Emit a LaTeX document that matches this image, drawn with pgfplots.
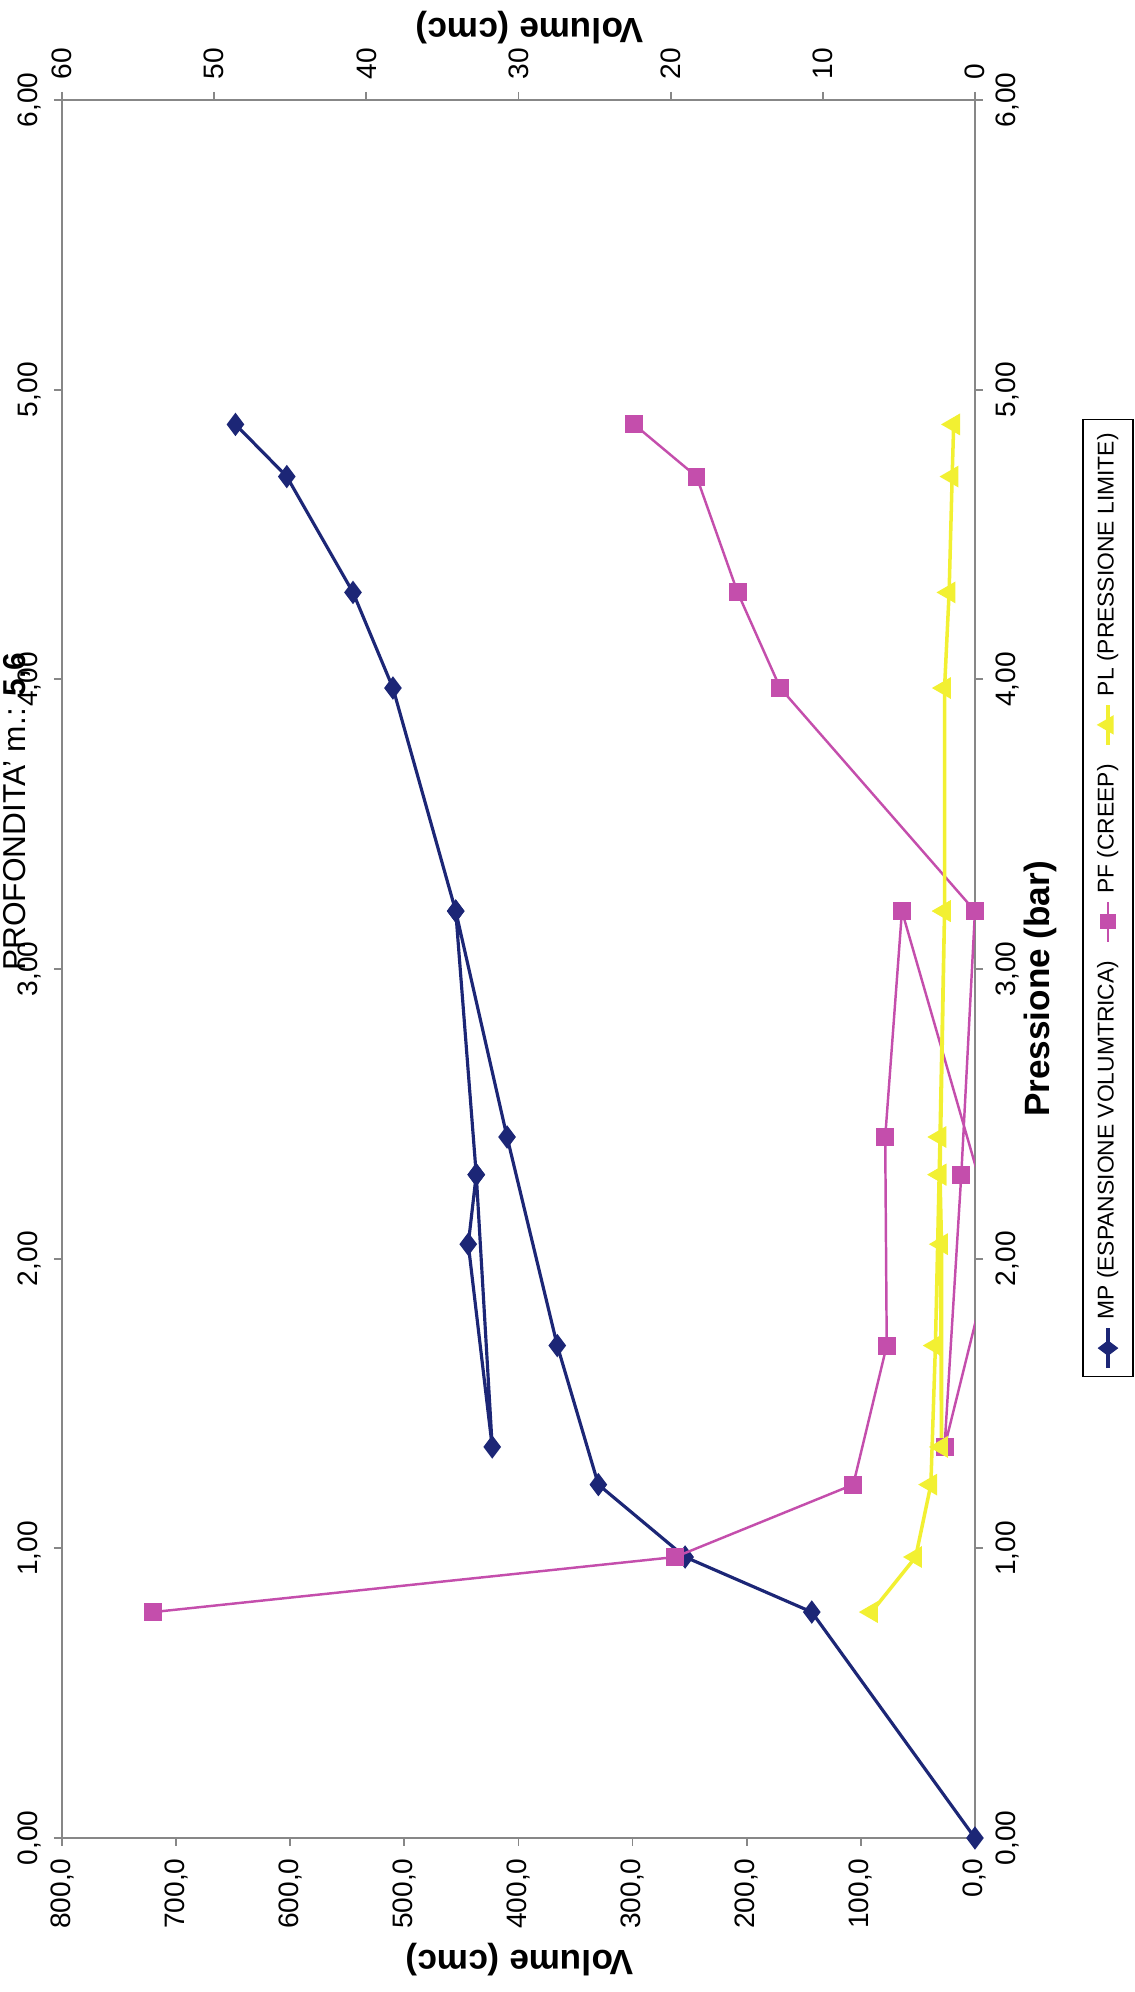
\documentclass[border=0pt]{standalone}
\usepackage{pgfplots}
\pgfplotsset{compat=1.18}
\usepackage{fontspec}
\setmainfont{Liberation Sans}
\definecolor{mpblue}{RGB}{28,38,118}
\definecolor{pfpink}{RGB}{196,78,172}
\definecolor{plyellow}{RGB}{242,240,50}
\definecolor{axgray}{RGB}{135,135,135}
\newcommand{\lbl}{\fontsize{8}{8}\selectfont}

\begin{document}
\begin{tikzpicture}
\path[use as bounding box] (0,0) rectangle (11.35,19.92);

% primary axis: Volume 0-800 (bottom), Pressione (right)
\begin{axis}[
  at={(0.62cm,1.54cm)}, anchor=south west,
  width=9.13cm, height=17.38cm, scale only axis,
  xmin=0, xmax=800, x dir=reverse,
  ymin=0, ymax=6,
  axis x line*=bottom, axis y line*=right,
  axis line style={axgray, line width=0.6pt},
  tick style={axgray, line width=0.5pt},
  tick align=outside, major tick length=0.08cm,
  xtick={0,100,200,300,400,500,600,700,800},
  xticklabels={{0,0},{100,0},{200,0},{300,0},{400,0},{500,0},{600,0},{700,0},{800,0}},
  ytick={0,1,2,3,4,5,6},
  yticklabels={{0,00},{1,00},{2,00},{3,00},{4,00},{5,00},{6,00}},
  xticklabel style={rotate=90, anchor=east, font=\lbl},
  yticklabel style={rotate=90, anchor=north, font=\lbl},
]
\addplot[mpblue, line width=0.9pt, mark=diamond*, mark size=2.6pt,
  mark options={fill=mpblue, draw=mpblue}] coordinates {
  (0,0) (143,0.78) (254,0.97) (330,1.22) (366,1.70) (410,2.42) (455,3.20)
  (437,2.29) (444,2.05) (423,1.35) (437,2.29) (455,3.20)
  (510,3.97) (545,4.30) (603,4.70) (648,4.88)
};
\end{axis}

% secondary axis: Volume 0-60 (top), Pressione (left)
\begin{axis}[
  at={(0.62cm,1.54cm)}, anchor=south west,
  width=9.13cm, height=17.38cm, scale only axis,
  xmin=0, xmax=60, x dir=reverse,
  ymin=0, ymax=6,
  axis x line*=top, axis y line*=left,
  axis line style={axgray, line width=0.6pt},
  tick style={axgray, line width=0.5pt},
  tick align=outside, major tick length=0.08cm,
  xtick={0,10,20,30,40,50,60},
  xticklabels={0,10,20,30,40,50,60},
  ytick={0,1,2,3,4,5,6},
  yticklabels={{0,00},{1,00},{2,00},{3,00},{4,00},{5,00},{6,00}},
  xticklabel style={rotate=90, anchor=west, font=\lbl},
  yticklabel style={rotate=90, anchor=south, font=\lbl},
]
\addplot[pfpink, line width=0.7pt, mark=square*, mark size=2.2pt,
  mark options={fill=pfpink, draw=pfpink}] coordinates {
  (54.0,0.78) (19.7,0.97) (8.0,1.22) (5.8,1.70) (5.9,2.42) (4.8,3.20)
  (-0.2,2.29) (-1.3,2.05) (2.0,1.35) (0.9,2.29) (0.0,3.20)
  (12.8,3.97) (15.6,4.30) (18.3,4.70) (22.4,4.88)
};
\addplot[plyellow, line width=1.0pt, mark=triangle*, mark size=2.6pt,
  mark options={fill=plyellow, draw=plyellow, rotate=90}] coordinates {
  (6.8,0.78) (3.9,0.97) (2.9,1.22) (2.6,1.70) (2.3,2.42) (2.0,3.20)
  (2.3,2.29) (2.2,2.05) (2.2,1.35) (2.3,2.29) (2.0,3.20)
  (2.0,3.97) (1.7,4.30) (1.5,4.70) (1.4,4.88)
};
\end{axis}

% legend, turned with the page
\begin{scope}[shift={(11.08cm,10.94cm)}, rotate=90, transform shape]
\begin{axis}[
  hide axis, scale only axis, width=1cm, height=0.5cm,
  at={(0,0)}, anchor=center,
  xmin=0, xmax=1, ymin=0, ymax=1,
  legend columns=3,
  legend style={at={(0.5,0.5)}, anchor=center, draw=black, line width=0.4pt,
    fill=white, font=\fontsize{6.5}{7}\selectfont, inner sep=2pt,
    /tikz/every even column/.append style={column sep=3pt}},
  legend image code/.code={\draw[mark repeat=2, mark phase=2]
    plot coordinates {(0cm,0cm) (0.2cm,0cm) (0.4cm,0cm)};},
]
\addlegendimage{mpblue, line width=0.9pt, mark=diamond*, mark size=2.2pt,
  mark options={fill=mpblue, draw=mpblue}}
\addlegendentry{MP (ESPANSIONE VOLUMTRICA)}
\addlegendimage{pfpink, line width=0.7pt, mark=square*, mark size=1.8pt,
  mark options={fill=pfpink, draw=pfpink}}
\addlegendentry{PF (CREEP)}
\addlegendimage{plyellow, line width=1.0pt, mark=triangle*, mark size=2.2pt,
  mark options={fill=plyellow, draw=plyellow}}
\addlegendentry{PL (PRESSIONE LIMITE)}
\end{axis}
\end{scope}

% axis titles (rotated, as in the scanned page)
\node[rotate=180, font=\bfseries\fontsize{10}{10}\selectfont] at (5.20,0.32) {Volume (cmc)};
\node[rotate=180, font=\bfseries\fontsize{10}{10}\selectfont] at (5.30,19.64) {Volume (cmc)};
\node[rotate=90, font=\bfseries\fontsize{10}{10}\selectfont] at (10.40,10.03) {Pressione (bar)};
\node[rotate=90, anchor=west, font=\fontsize{9}{9}\selectfont] at (0.17,10.09) {PROFONDITA' m.: \textbf{5,6}};
\end{tikzpicture}
\end{document}
